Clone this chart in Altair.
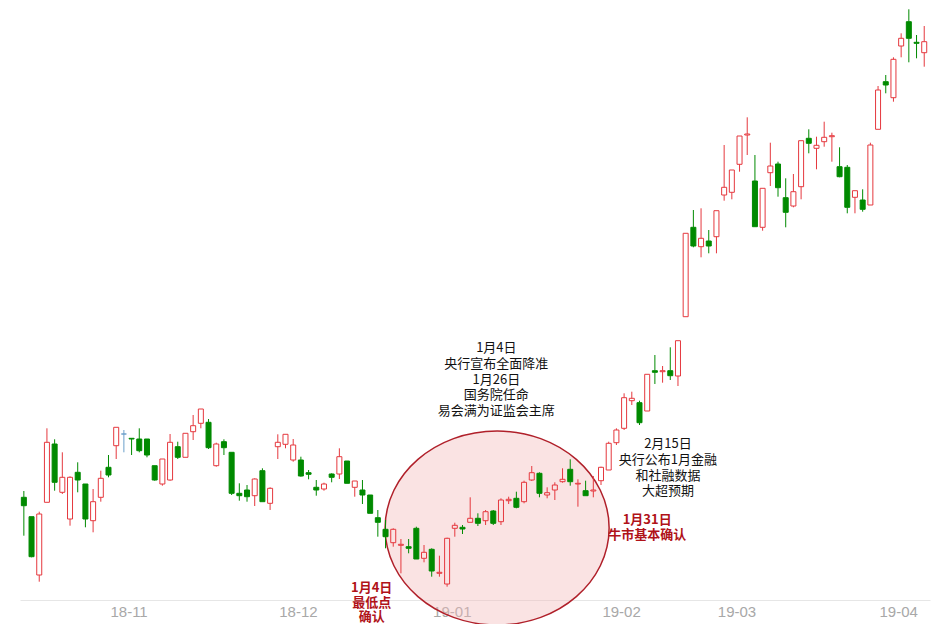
import altair as alt
import pandas as pd

# ---- daily candles (arbitrary index units) ----
open_ = [102.7, 83.3, 25, 97.7, 156, 107.7, 81, 127.7, 116, 79.3,
         102.7, 132.7, 154.3, 166, 161.7, 161, 161, 134.3, 116, 120,
         153.3, 142.7, 168.3, 176.7, 177.7, 134.3, 158.3, 147.7, 106.7, 110,
         104.3, 129.3, 96.7, 153.3, 155.7, 140, 140, 127.3, 112.7, 111,
         126, 126, 139, 112.7, 110, 105, 82.3, 70.7, 57.3, 54.7,
         53.3, 71.7, 41.7, 50.7, 26.7, 16, 71.7, 72.7, 77.7, 81.7,
         79.3, 89, 78.3, 99.3, 101.7, 98.3, 120, 126.7, 105, 110,
         118.3, 130.7, 116, 109.3, 109, 119.3, 130, 157.3, 171.7, 199.3,
         197.3, 189, 229.3, 228.3, 229.3, 224, 283.3, 372.7, 353.3, 359,
         363.3, 405, 407.7, 435.7, 465, 419, 372.7, 427.3, 436, 402.3,
         394, 413.3, 461.7, 451.7, 458.3, 463.3, 433.3, 432.7, 402.7, 400,
         395, 470.7, 518.3, 502.3, 554, 578.3, 557.7, 547.3]
high = [109, 83.3, 88.3, 171.7, 160.7, 147.7, 123.7, 137.7, 116, 111,
        129.3, 145, 172.7, 170, 161.7, 171.7, 161, 134.3, 141, 166,
        158.3, 166.7, 185, 191, 181, 157.3, 160.7, 147.7, 116.7, 115,
        121.7, 131.7, 112.7, 165.7, 165.7, 161, 143.3, 130, 120, 117.3,
        126.7, 151.7, 139, 119, 120, 105, 90, 80, 71.7, 61,
        61, 73.3, 55, 51.7, 44.3, 62.3, 77.3, 75, 102.7, 86.7,
        90, 90, 101.7, 103.3, 108.3, 119.3, 134, 127.7, 112.7, 117.7,
        131.7, 140.7, 120.7, 119.3, 124, 133.3, 158.3, 171.7, 206.7, 208.3,
        199.3, 225.7, 245, 234, 252.7, 259.3, 366.7, 390, 391.7, 370,
        389.3, 455, 430, 464, 482.7, 445, 411.7, 457.3, 438.3, 421.7,
        426, 459.3, 470.7, 463.3, 478.3, 467.3, 452.7, 435, 409.3, 410.7,
        457.3, 514, 525, 542.7, 566.7, 590.7, 565, 574]
low = [64.3, 42.7, 18.3, 97.7, 109.3, 106, 74.3, 107.7, 72.7, 67.7,
       98.3, 122.7, 141, 147.7, 145, 147.7, 142.7, 119.3, 114.3, 119.3,
       141, 142.7, 160, 171.7, 151, 133.3, 145, 105, 99.3, 98.3,
       94, 98.3, 90, 141, 151.7, 138.3, 123.3, 120.7, 104.3, 109.3,
       117.7, 121, 116.7, 103.3, 96, 86.7, 63.3, 51.7, 53.3, 26.7,
       46.7, 41, 37.7, 23.3, 23.3, 13.3, 63.3, 66, 77.7, 74,
       75, 75, 75, 96, 91.7, 96.7, 119, 102.7, 101.7, 100,
       117.3, 114.3, 93.3, 104.3, 102.7, 115, 130, 155, 170, 195,
       175, 189, 216, 217.3, 220, 214, 283.3, 352.7, 342.7, 346.7,
       346.7, 399.3, 400.7, 428.3, 445, 373.3, 369.3, 414, 403.3, 372.7,
       392.7, 400.7, 446.7, 430.7, 453.3, 438.3, 422.7, 386.7, 386.7, 388.3,
       395, 470.7, 506.7, 498.3, 542.7, 537.7, 541.7, 533.3]
close = [94.3, 43.3, 86, 157.7, 117.7, 122.7, 122.7, 120, 81, 98.3,
         121.7, 125, 172.7, 166, 161, 149.3, 145, 120, 141, 157.7,
         142.7, 166.7, 174.3, 191, 152.3, 156, 152.3, 106.7, 104.3, 103.3,
         121, 98.3, 111.7, 157.7, 165.7, 155, 124, 125.7, 110, 116,
         122.7, 143.3, 116.7, 119, 105, 86.7, 77.7, 63.3, 70.7, 55.7,
         51.7, 41, 47.7, 29, 27.7, 61.7, 74.7, 71, 81.7, 76.7,
         88.3, 76.7, 100, 100.7, 92.7, 117.7, 127.3, 106.7, 107.3, 115,
         120.7, 118.3, 116.7, 104.3, 110, 132.7, 156.7, 170, 202.3, 201.7,
         177.3, 225.7, 227.7, 229.3, 224.3, 259.3, 366.7, 354, 361.7, 354,
         389.3, 412.7, 430, 464, 466, 373.3, 411.7, 434, 412.3, 387.7,
         408.3, 459.3, 456.7, 454.7, 462.7, 464.3, 423.3, 392.7, 409.3, 390.7,
         455, 510, 515, 540.7, 561.7, 561.7, 556.7, 558.3]

# ---- x-axis month labels (candle index of first trading day of month) ----
month_pos = [14, 36, 56, 78, 93, 114]
month_labels = ["18-11", "18-12", "19-01", "19-02", "19-03", "19-04"]

# ---- annotations (anchor = first text line) ----
black_notes = ["1月4日\n央行宣布全面降准\n1月26日\n国务院任命\n易会满为证监会主席",
               "2月15日\n央行公布1月金融\n和社融数据\n大超预期"]
black_x = [61.4, 83.7]
black_y = [251.7, 155.7]
red_notes = ["1月31日\n牛市基本确认", "1月4日\n最低点\n确认"]
red_x = [81.0, 45.2]
red_y = [80.0, 12.0]
ring_x = [61.5]
ring_y = [72.0]

df = pd.DataFrame({"i": list(range(len(open_))), "o": open_, "h": high,
                   "l": low, "c": close})
bn = pd.DataFrame({"x": black_x, "y": black_y, "t": black_notes})
rn = pd.DataFrame({"x": red_x, "y": red_y, "t": red_notes})
ring = pd.DataFrame({"x": ring_x, "y": ring_y})

RED = "#e5383e"
GREEN = "#008a00"
BLUE = "#6a9fca"

label_expr = " : ".join(f"datum.value == {p} ? '{t}'" for p, t in zip(month_pos, month_labels)) + " : ''"

xscale = alt.Scale(domain=[-0.5, 117.75], nice=False, zero=False, padding=0)
yscale = alt.Scale(domain=[0, 592], nice=False, zero=False)

xaxis = alt.Axis(values=month_pos, labelExpr=label_expr, title=None, grid=False,
                 ticks=False, domainColor="#e6e6e6", domainWidth=1,
                 labelColor="#a8a8a8", labelFontSize=15, labelPadding=4, labelOffset=-3,
                 labelFont="Liberation Sans Narrow, Liberation Sans, sans-serif",
                 labelFlush=False, labelOverlap=False)

base = alt.Chart(df).transform_calculate(
    top="max(datum.o, datum.c)",
    bot="min(datum.o, datum.c)",
    col=f"datum.c > datum.o ? '{RED}' : (datum.c < datum.o ? '{GREEN}' : '{BLUE}')",
    fil=f"datum.c > datum.o ? 'transparent' : (datum.c < datum.o ? '{GREEN}' : '{BLUE}')",
)

k = 0.866
c1 = 0.5523
path = (f"M 1 0 C 1 {c1*k:.4f} {c1} {k} 0 {k} "
        f"C -{c1} {k} -1 {c1*k:.4f} -1 0 "
        f"C -1 -{c1*k:.4f} -{c1} -{k} 0 -{k} "
        f"C {c1} -{k} 1 -{c1*k:.4f} 1 0 Z")

ellipse = alt.Chart(ring).mark_point(
    shape=path, size=224 * 224, filled=True, fill="#f3b9b9", fillOpacity=0.4,
    stroke="#b0202a", strokeWidth=1.5, strokeOpacity=1, opacity=1
).encode(
    x=alt.X("x:Q", scale=xscale, axis=xaxis),
    y=alt.Y("y:Q", scale=yscale, axis=None),
)

upper = base.mark_rule(strokeWidth=1).encode(
    x=alt.X("i:Q", scale=xscale),
    y=alt.Y("h:Q", scale=yscale),
    y2="top:Q",
    color=alt.Color("col:N", scale=None),
)
lower = base.mark_rule(strokeWidth=1).encode(
    x=alt.X("i:Q", scale=xscale),
    y=alt.Y("bot:Q", scale=yscale),
    y2="l:Q",
    color=alt.Color("col:N", scale=None),
)
body = base.mark_bar(width=5, strokeWidth=1).encode(
    x=alt.X("i:Q", scale=xscale),
    y=alt.Y("o:Q", scale=yscale),
    y2="c:Q",
    fill=alt.Fill("fil:N", scale=None),
    stroke=alt.Stroke("col:N", scale=None),
)

black_txt = alt.Chart(bn).mark_text(
    lineBreak="\n", font="Noto Sans CJK SC", fontSize=13, lineHeight=15.7,
    color="#111111", align="center", baseline="middle"
).encode(x=alt.X("x:Q", scale=xscale), y=alt.Y("y:Q", scale=yscale), text="t:N")

red_txt = alt.Chart(rn).mark_text(
    lineBreak="\n", font="Noto Sans CJK SC", fontSize=13, lineHeight=14.5,
    fontWeight="bold", color="#b01218", align="center", baseline="middle"
).encode(x=alt.X("x:Q", scale=xscale), y=alt.Y("y:Q", scale=yscale), text="t:N")

chart = alt.layer(ellipse, upper, lower, body, black_txt, red_txt).properties(
    width=910, height=592,
    autosize=alt.AutoSizeParams(type="none"),
    padding={"left": 12, "top": 0, "right": 6, "bottom": 24},
    background="white",
).configure_view(stroke=None)

chart.save("out.html", embed_options={"renderer": "svg", "actions": False})
